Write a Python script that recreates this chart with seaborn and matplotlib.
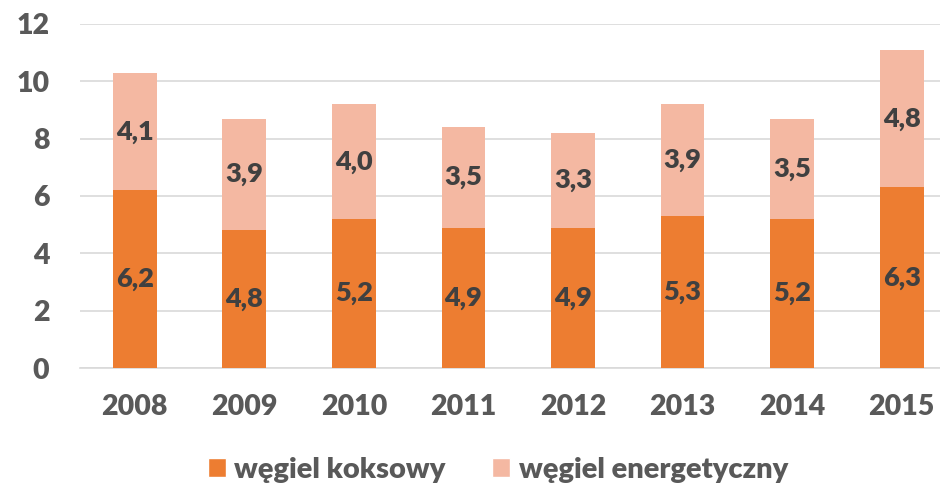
import matplotlib
matplotlib.use("Agg")
import matplotlib.pyplot as plt
from matplotlib.patches import Patch
import seaborn as sns
import pandas as pd

years = ["2008", "2009", "2010", "2011", "2012", "2013", "2014", "2015"]
koksowy = [6.2, 4.8, 5.2, 4.9, 4.9, 5.3, 5.2, 6.3]
energetyczny = [4.1, 3.9, 4.0, 3.5, 3.3, 3.9, 3.5, 4.8]
series_names = ["węgiel koksowy", "węgiel energetyczny"]
y_ticks = [0, 2, 4, 6, 8, 10, 12]

sns.set_theme(style="white")
plt.rcParams["font.family"] = ["Lato", "DejaVu Sans"]
W = "heavy"

c_dark = "#ED7D31"
c_light = "#F4B8A2"
tick_col = "#595959"
lab_col = "#404040"
grid_col = "#D9D9D9"

df = pd.DataFrame({"rok": years, "koks": koksowy, "energ": energetyczny})

fig = plt.figure(figsize=(9.4, 4.86), dpi=100)
ax = fig.add_axes([80 / 940, 118 / 486, 860 / 940, 344 / 486])

sns.barplot(data=df, x="rok", y="koks", color=c_dark, width=0.4,
            saturation=1, ax=ax, zorder=3, linewidth=0)
sns.barplot(data=df, x="rok", y="energ", bottom=df["koks"], color=c_light,
            width=0.4, saturation=1, ax=ax, zorder=3, linewidth=0)

for i, (k, e) in enumerate(zip(koksowy, energetyczny)):
    ax.text(i, k / 2, f"{k:.1f}".replace(".", ","), ha="center", va="center",
            fontsize=19.5, fontweight=W, color=lab_col, zorder=4)
    ax.text(i, k + e / 2, f"{e:.1f}".replace(".", ","), ha="center", va="center",
            fontsize=19.5, fontweight=W, color=lab_col, zorder=4)

ax.set_ylim(0, 12)
ax.set_xlim(-0.5, 7.35)
ax.set_yticks(y_ticks)
ax.set_yticklabels([str(t) for t in y_ticks])
ax.yaxis.grid(True, color=grid_col, linewidth=1.2, zorder=0)
ax.set_axisbelow(True)
for s in ["top", "right", "left"]:
    ax.spines[s].set_visible(False)
ax.spines["bottom"].set_color(grid_col)
ax.spines["bottom"].set_linewidth(1.2)
ax.set_xlabel("")
ax.set_ylabel("")
ax.tick_params(axis="both", length=0, labelsize=20.5, labelcolor=tick_col)
ax.tick_params(axis="y", pad=22)
ax.tick_params(axis="x", pad=19)
for lbl in ax.get_xticklabels() + ax.get_yticklabels():
    lbl.set_fontweight(W)
for lbl in ax.get_yticklabels():
    lbl.set_horizontalalignment("right")

handles = [Patch(facecolor=c_dark, label=series_names[0]),
           Patch(facecolor=c_light, label=series_names[1])]
leg = fig.legend(handles=handles, loc="center", bbox_to_anchor=(498 / 940, 16 / 486),
                 ncol=2, frameon=False, fontsize=21, handlelength=0.62,
                 handleheight=0.62, handletextpad=0.28, columnspacing=1.6)
for t in leg.get_texts():
    t.set_color(tick_col)
    t.set_fontweight(W)

fig.savefig("out.png", dpi=100)
